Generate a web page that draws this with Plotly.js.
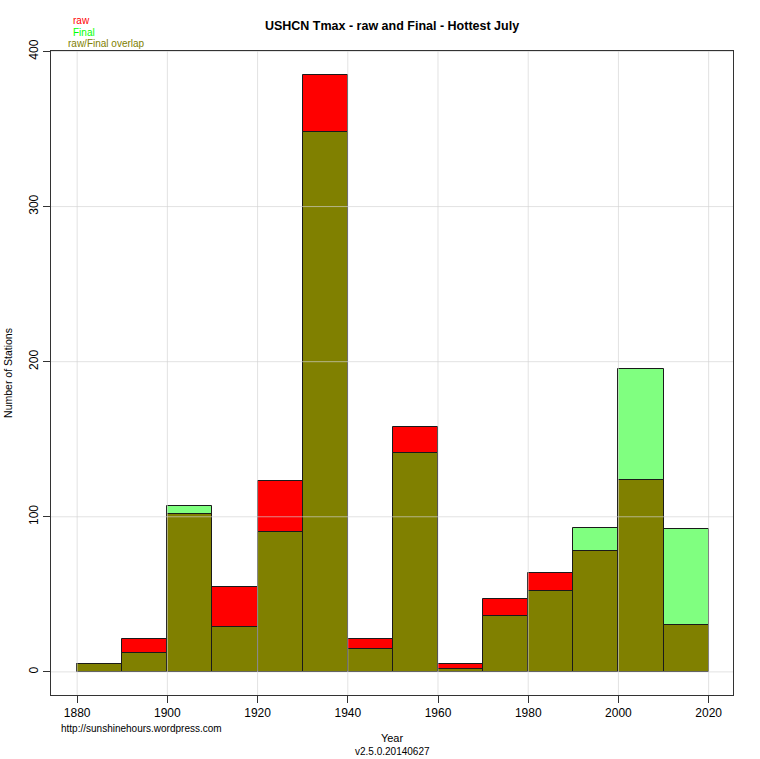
<!DOCTYPE html>
<html><head><meta charset="utf-8">
<script src="https://cdn.plot.ly/plotly-3.0.1.min.js"></script>
<style>html,body{margin:0;padding:0;background:#fff}</style></head>
<body><div id="chart" style="width:760px;height:759px"></div>
<script>
const decades = [1885,1895,1905,1915,1925,1935,1945,1955,1965,1975,1985,1995,2005,2015];
const rawCounts = [5,21,102,55,123,385,21,158,5,47,64,78,124,30];
const finalCounts = [5,12,107,29,90,348,15,141,2,36,52,93,195,92];
const overlapCounts = [5,12,102,29,90,348,15,141,2,36,52,78,124,30];
const xTicks = [1880,1900,1920,1940,1960,1980,2000,2020];
const yTicks = [0,100,200,300,400];
const FONT = 'Liberation Sans, Arial, sans-serif';
const edge = {color:'#1a1a1a', width:1};
const bars = (name, y, color) => ({type:'bar', name, x:decades, y, width:10, marker:{color, line:edge}, hoverinfo:'x+y'});
const gridStyle = {color:'rgba(211,211,211,0.65)', width:1};
const vGrid = xTicks.map(v => ({type:'line', layer:'above', xref:'x', yref:'paper', x0:v, x1:v, y0:0, y1:1, line:gridStyle}));
const hGrid = yTicks.map(v => ({type:'line', layer:'above', xref:'paper', yref:'y', x0:0, x1:1, y0:v, y1:v, line:gridStyle}));
const note = (text, x, y, color, size) => ({text, x, y, xref:'paper', yref:'paper', xanchor:'center', yanchor:'middle', showarrow:false, font:{family:FONT, size:size||10, color:color||'#000'}});
const px = v => (v-51)/682, py = v => (695-v)/644;
const layout = {
  width:760, height:759, showlegend:false, barmode:'overlay', bargap:0,
  paper_bgcolor:'#fff', plot_bgcolor:'#fff',
  margin:{l:51, r:27, t:51, b:64, pad:0},
  font:{family:FONT, size:12, color:'#000'},
  title:{text:'<b>USHCN Tmax - raw and Final - Hottest July</b>', font:{family:FONT, size:12.5, color:'#000'}, x:392/760, xanchor:'center', y:1-26/759, yanchor:'middle'},
  xaxis:{range:[1874.2,2025.4], tickmode:'array', tickvals:xTicks, ticktext:xTicks.map(String), ticks:'outside', ticklen:7, tickcolor:'#333', tickfont:{size:12}, showgrid:false, zeroline:false, showline:true, linecolor:'#333', linewidth:1, mirror:true,
    title:{text:'Year', font:{size:11}, standoff:14}},
  yaxis:{range:[-14.9,400.3], tickmode:'array', tickvals:yTicks, ticktext:yTicks.map(String), ticks:'outside', ticklen:7, tickcolor:'#333', tickangle:-90, tickfont:{size:12}, showgrid:false, zeroline:false, showline:true, linecolor:'#333', linewidth:1, mirror:true,
    title:{text:'Number of Stations', font:{size:10.5}, standoff:12}},
  shapes: vGrid.concat(hGrid),
  annotations:[
    note('raw', px(81), py(20), '#ff0000'),
    note('Final', px(84), py(32), '#00ff00'),
    note('raw/Final overlap', px(106.5), py(44), '#808000'),
    note('http://sunshinehours.wordpress.com', px(141), py(728), '#000'),
    note('v2.5.0.20140627', px(392), py(751), '#000')
  ]
};
Plotly.newPlot('chart',[
  bars('raw', rawCounts, '#ff0000'),
  bars('Final', finalCounts, '#80ff80'),
  bars('raw/Final overlap', overlapCounts, '#808000')
], layout, {displayModeBar:false});
</script></body></html>
